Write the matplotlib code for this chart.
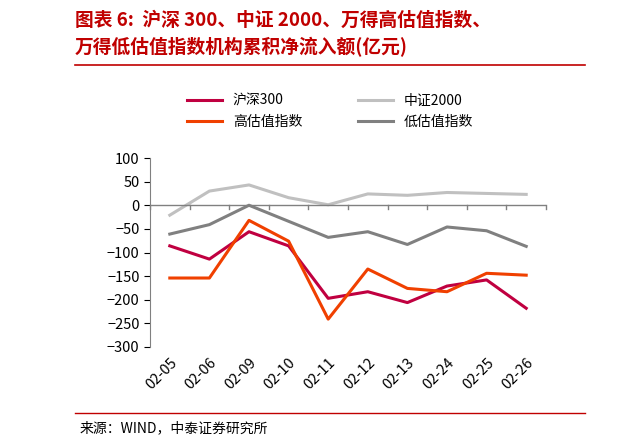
import matplotlib
matplotlib.use("Agg")
import matplotlib.pyplot as plt
from matplotlib.lines import Line2D

plt.rcParams['font.family'] = ['Noto Sans CJK SC', 'DejaVu Sans']
dates = ["02-05","02-06","02-09","02-10","02-11","02-12","02-13","02-24","02-25","02-26"]
hs300 = [-86,-114,-56,-86,-197,-183,-206,-171,-158,-218]
zz2000 = [-21,30,43,16,1,24,21,27,25,23]
high_val = [-154,-154,-32,-76,-241,-135,-176,-183,-144,-148]
low_val = [-61,-41,0,-34,-68,-56,-83,-46,-54,-87]

fig = plt.figure(figsize=(6.21,4.47), dpi=100)
ax = fig.add_axes([150/621, 1-347/447, 396/621, 189/447])
x = range(len(dates))
ax.plot(x, hs300, color='#C00040', lw=2.2)
ax.plot(x, zz2000, color='#C0C0C0', lw=2.2)
ax.plot(x, high_val, color='#F04000', lw=2.2)
ax.plot(x, low_val, color='#808080', lw=2.2)
ax.set_xlim(-0.5, 9.5)
ax.set_ylim(-300, 100)
ax.set_yticks(range(-300, 101, 50))
ax.tick_params(axis='y', labelsize=10.5, length=4, direction='out')
ax.set_xticks([])
for s in ['top','right','bottom']:
    ax.spines[s].set_visible(False)
ax.spines['left'].set_color('#808080')
ax.axhline(0, color='#808080', lw=1)
for i in range(11):
    ax.plot([i-0.5, i-0.5], [0, -8], color='#808080', lw=1, clip_on=False)
for i, d in enumerate(dates):
    ax.text(i, -318, d, rotation=45, ha='right', va='top', fontsize=10.5, rotation_mode='anchor')

cols = ['#C00040','#F04000','#C0C0C0','#808080']
labels = ['沪深300','高估值指数','中证2000','低估值指数']
handles = [Line2D([], [], color=c, lw=2.2) for c in cols]
fig.legend(handles, labels, ncol=2,
           loc='center', bbox_to_anchor=(330/621, 1-111/447), frameon=False,
           fontsize=10, columnspacing=4, handlelength=2.5)

fig.text(75/621, 1-20/447, '图表 6:  沪深 300、中证 2000、万得高估值指数、', color='#C00000',
         fontsize=13.5, fontweight='bold', style='italic', va='center')
fig.text(75/621, 1-47/447, '万得低估值指数机构累积净流入额(亿元)', color='#C00000',
         fontsize=13.5, fontweight='bold', style='italic', va='center')
fig.add_artist(Line2D([75/621, 585/621], [1-65/447]*2, color='#C00000', lw=1.2))
fig.add_artist(Line2D([75/621, 585/621], [1-413/447]*2, color='#C00000', lw=1))
fig.text(80/621, 1-428/447, '来源：WIND，中泰证券研究所', fontsize=10, va='center')
fig.savefig('out.png', dpi=100)
